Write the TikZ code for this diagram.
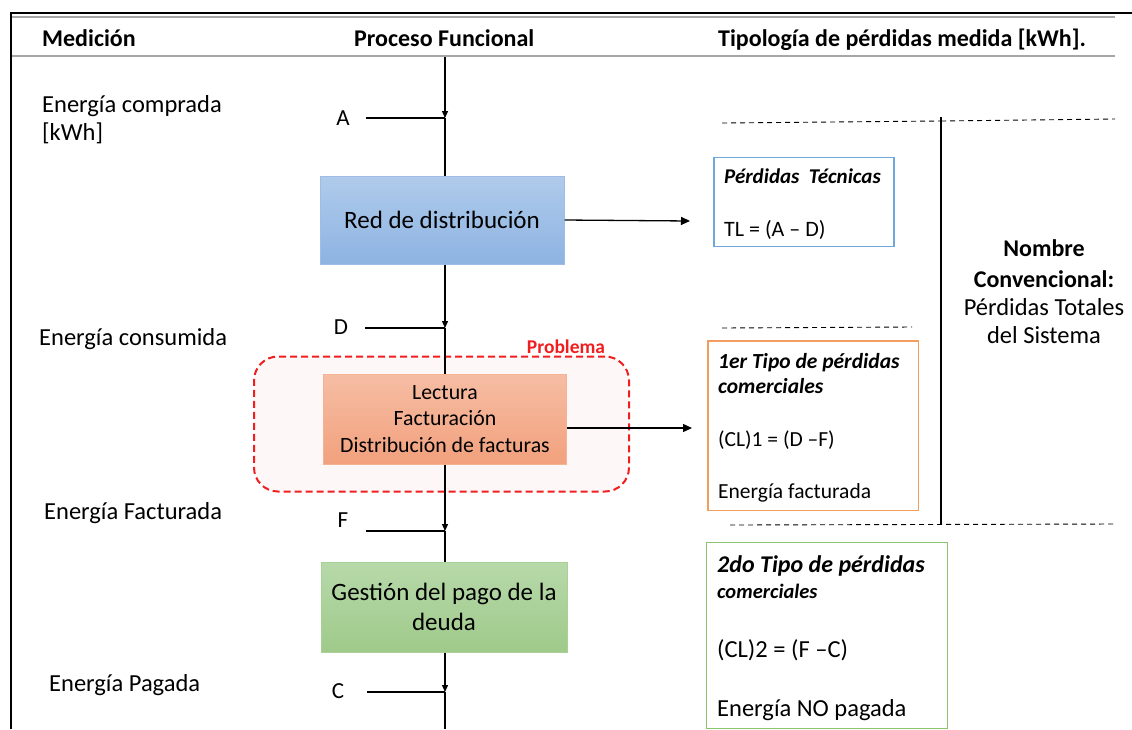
\documentclass[tikz,border=0pt]{standalone}
\usepackage{fontspec}
\setmainfont{Carlito}
\usetikzlibrary{arrows.meta}
\definecolor{blueA}{HTML}{B0CBEB}
\definecolor{blueB}{HTML}{8DB3E2}
\definecolor{blueEdge}{HTML}{9EBDE6}
\definecolor{blueLine}{HTML}{6FA8DC}
\definecolor{orA}{HTML}{F6BDA4}
\definecolor{orB}{HTML}{F2A17D}
\definecolor{orEdge}{HTML}{F4B394}
\definecolor{orLine}{HTML}{F19E5E}
\definecolor{grA}{HTML}{B7D9AA}
\definecolor{grB}{HTML}{9FCA8A}
\definecolor{grEdge}{HTML}{A9D196}
\definecolor{grLine}{HTML}{8CC36E}
\definecolor{probRed}{HTML}{F01E1E}
\definecolor{probFill}{HTML}{FDF8F7}
\definecolor{hdrGray}{HTML}{A6A6A6}
\begin{document}
\begin{tikzpicture}[x=1pt,y=-1pt,
  f24/.style={font=\fontsize{24.5}{29}\selectfont},
  f22/.style={font=\fontsize{23}{27}\selectfont},
  f21/.style={font=\fontsize{21.5}{26.5}\selectfont},
  hdr/.style={font=\fontsize{24}{29}\selectfont\bfseries, anchor=base west, inner sep=0pt},
  lbl/.style={f24, anchor=base west, inner sep=0pt},
  letter/.style={f22, anchor=base, inner sep=0pt},
  rtxt/.style={anchor=base west, inner sep=0pt},
  proc/.style={draw, line width=1pt, inner sep=2pt, align=center},
  outbox/.style={draw, line width=1.3pt, inner sep=0pt},
  flow/.style={line width=1.3pt},
  vtip/.style={line width=1.3pt, -{Triangle[length=7pt,width=6pt]}},
  htip/.style={line width=1.3pt, -{Triangle[length=9pt,width=8pt]}},
  dsh/.style={line width=0.9pt, dash pattern=on 5pt off 4pt}
]
\useasboundingbox (0,0) rectangle (1132,729);

% frame
\draw[line width=2pt] (11,729) -- (11,13) -- (1132,13);
\draw[hdrGray, line width=1.5pt] (12,17) -- (1115,17);
\draw[hdrGray, line width=1.5pt] (12,56) -- (1115,56);

% headers
\node[hdr] (h1) at (42,46) {Medición};
\node[hdr] (h2) at (354,46) {Proceso Funcional};
\node[hdr] (h3) at (718,46) {Tipología de pérdidas medida [kWh].};

% left labels
\node[lbl] (m1) at (42,112) {Energía comprada};
\node[lbl] (m1b) at (42,140) {[kWh]};
\node[lbl] (m2) at (39,345) {Energía consumida};
\node[lbl] (m3) at (44,519) {Energía Facturada};
\node[lbl] (m4) at (49,691) {Energía Pagada};

% problem region
\node[draw=probRed, fill=probFill, line width=2pt, dash pattern=on 7pt off 4pt,
      rounded corners=24pt, minimum width=375pt, minimum height=135pt, inner sep=0pt]
      (prob) at (441.5,424) {};
\node[anchor=base, inner sep=0pt, text=probRed, font=\fontsize{19.5}{23}\selectfont\bfseries]
      (probl) at (566,353) {Problema};

% process boxes
\node[proc, draw=blueEdge, top color=blueA, bottom color=blueB, font=\fontsize{25}{29}\selectfont,
      minimum width=244pt, minimum height=88pt] (red) at (442,220) {Red de distribución};
\node[proc, draw=orEdge, top color=orA, bottom color=orB, font=\fontsize{21.8}{26.5}\selectfont,
      minimum width=243pt, minimum height=90pt] (fact) at (445,419)
      {Lectura\\Facturación\\Distribución de facturas};
\node[proc, draw=grEdge, top color=grA, bottom color=grB, font=\fontsize{25}{30}\selectfont,
      minimum width=246pt, minimum height=90pt] (pago) at (444,607)
      {Gestión del pago de la\\deuda};

% main flow coordinates
\coordinate (top) at (445,57);
\coordinate (bot) at (445,729);
\coordinate (jA) at (445,118);
\coordinate (jD) at (445,328);
\coordinate (jF) at (445,531);
\coordinate (jC) at (445,692);
\coordinate (sA) at (366,118);
\coordinate (sD) at (365,328);
\coordinate (sF) at (366,531);
\coordinate (sC) at (367,692);

\draw[vtip] (top) -- (jA);
\draw[flow] (jA) -- (jA |- red.north);
\draw[vtip] (jD |- red.south) -- (jD);
\draw[flow] (jD) -- (jD |- fact.north);
\draw[vtip] (jF |- fact.south) -- (jF);
\draw[flow] (jF) -- (jF |- pago.north);
\draw[vtip] (jC |- pago.south) -- (jC);
\draw[flow] (jC) -- (bot);

\draw[flow] (sA) -- (jA);
\draw[flow] (sD) -- (jD);
\draw[flow] (sF) -- (jF);
\draw[flow] (sC) -- (jC);

\node[letter] (lA) at (343,125) {A};
\node[letter] (lD) at (341,334) {D};
\node[letter] (lF) at (343,527) {F};
\node[letter] (lC) at (338,698) {C};

% right boxes
\node[outbox, draw=blueLine, minimum width=180pt, minimum height=89.5pt] (tl) at (804,202) {};
\node[outbox, draw=orLine, minimum width=210.7pt, minimum height=169.7pt] (cl1) at (813.3,425.9) {};
\node[outbox, draw=grLine, minimum width=241pt, minimum height=185.6pt] (cl2) at (827.2,635.4) {};

\coordinate (tlin) at (690,221);
\coordinate (cl1in) at (692,428);
\draw[htip] (red.east) -- (tlin);
\draw[htip] (fact.east |- cl1in) -- (cl1in);

\node[rtxt, font=\fontsize{21}{24}\selectfont\bfseries\itshape] (t1) at (724,183) {Pérdidas\ \ Técnicas};
\node[rtxt, font=\fontsize{22}{26}\selectfont] (t2) at (724,236) {TL = (A – D)};

\node[rtxt, font=\fontsize{21.5}{25}\selectfont\bfseries\itshape] (c1a) at (718,368) {1er Tipo de pérdidas};
\node[rtxt, font=\fontsize{21.5}{25}\selectfont\bfseries\itshape] (c1b) at (718,393) {comerciales};
\node[rtxt, f21] (c1c) at (718,446) {(CL)1 = (D –F)};
\node[rtxt, f21] (c1d) at (718,498) {Energía facturada};

\node[rtxt, font=\fontsize{24}{29}\selectfont\bfseries\itshape] (c2a) at (717,572) {2do Tipo de pérdidas};
\node[rtxt, font=\fontsize{20.5}{25}\selectfont\bfseries\itshape] (c2b) at (717,598) {comerciales};
\node[rtxt, font=\fontsize{24.5}{29}\selectfont] (c2c) at (717,657) {(CL)2 = (F –C)};
\node[rtxt, font=\fontsize{24.5}{29}\selectfont] (c2d) at (717,716) {Energía NO pagada};

% dashed separators and bracket
\coordinate (d1l) at (722,123);
\coordinate (d1m) at (941,121);
\coordinate (d1r) at (1115,119);
\coordinate (d2l) at (722,328);
\coordinate (d2r) at (912,327);
\coordinate (d3l) at (730,525);
\coordinate (d3m) at (941,525);
\coordinate (d3r) at (1115,524);
\coordinate (vt) at (941,117);
\draw[dsh] (d1l) -- (d1m);
\draw[dsh] (d1m) -- (d1r);
\draw[dsh] (d2l) -- (d2r);
\draw[dsh] (d3l) -- (d3r);
\draw[line width=1.6pt] (vt) -- (d3m);

\node[anchor=base, inner sep=0pt, font=\fontsize{24}{29}\selectfont\bfseries] (n1) at (1044,256) {Nombre};
\node[anchor=base, inner sep=0pt, font=\fontsize{24}{29}\selectfont\bfseries] (n2) at (1044,287) {Convencional:};
\node[anchor=base, inner sep=0pt, f24] (n3) at (1044,315) {Pérdidas Totales};
\node[anchor=base, inner sep=0pt, f24] (n4) at (1044,343) {del Sistema};
\end{tikzpicture}
\end{document}
